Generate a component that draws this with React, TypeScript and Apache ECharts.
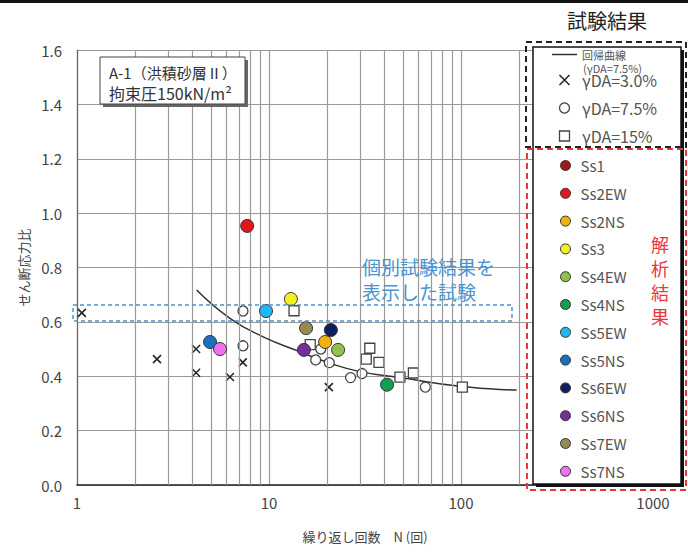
import React, { useEffect, useRef } from "react";
import * as echarts from "echarts";

const FONT = "'Noto Sans CJK JP', 'Liberation Sans', sans-serif";

// Regression curve
const curveN = [4.2, 6.26, 9.33, 14.5, 20.8, 29.8, 48, 101, 195];
const curveR = [0.717, 0.613, 0.545, 0.49, 0.448, 0.417, 0.395, 0.362, 0.349];

// Test results
const crossN = [1.06, 2.61, 4.17, 4.17, 6.26, 7.3, 20.5];
const crossR = [0.633, 0.463, 0.5, 0.413, 0.397, 0.451, 0.36];
const openN = [7.32, 7.32, 18.6, 17.5, 20.6, 26.6, 30.5, 65.2];
const openR = [0.64, 0.512, 0.5, 0.46, 0.45, 0.395, 0.41, 0.36];
const sqN = [13.5, 16.4, 33.5, 32.1, 37.4, 48.1, 56.5, 101.6];
const sqR = [0.641, 0.516, 0.503, 0.463, 0.451, 0.397, 0.412, 0.36];

// Analysis results
const ssNames = ["Ss1", "Ss2EW", "Ss2NS", "Ss3", "Ss4EW", "Ss4NS", "Ss5EW", "Ss5NS", "Ss6EW", "Ss6NS", "Ss7EW", "Ss7NS"];
const ssColors = ["#9c1a1a", "#e01818", "#f0b010", "#f2f020", "#90c050", "#10a050", "#20b8f0", "#1a70c0", "#101e60", "#7030a0", "#948a54", "#f070f0"];
const ssN: (number | null)[] = [null, 7.7, 19.6, 13.0, 22.9, 41.2, 9.65, 4.93, 21.0, 15.2, 15.6, 5.56];
const ssR: (number | null)[] = [null, 0.953, 0.526, 0.684, 0.497, 0.369, 0.64, 0.526, 0.57, 0.497, 0.577, 0.5];

const minorN = [2, 3, 4, 5, 6, 7, 8, 9, 20, 30, 40, 50, 60, 70, 80, 90, 200, 300, 400, 500, 600, 700, 800, 900];

const vertLabel = ["解", "析", "結", "果"];
const noteLines = ["個別試験結果を", "表示した試験"];

const CROSS = "path://M0,0L10,10M10,0L0,10";
const SQUARE = "path://M0,0L10,0L10,10L0,10Z";
const LINE_ICON = "path://M0,0L25,0L25,1.5L0,1.5Z";

export default function App() {
  const ref = useRef<HTMLDivElement>(null);
  useEffect(() => {
    const chart = echarts.init(ref.current!, null, { renderer: "svg" });
    const zip = (a: any[], b: any[]) => a.map((v, i) => [v, b[i]]);
    const ssSeries = ssNames.map((name, i) => ({
      name,
      type: "scatter",
      z: 5,
      symbol: "circle",
      symbolSize: 13,
      itemStyle: { color: ssColors[i], borderColor: "#333", borderWidth: 1, opacity: 1 },
      data: ssN[i] == null ? [] : [[ssN[i], ssR[i]]],
    }));
    const option: any = {
      animation: false,
      backgroundColor: "#fff",
      textStyle: { fontFamily: FONT },
      grid: { left: 77, right: 35, top: 50, bottom: 69 },
      xAxis: {
        type: "log",
        logBase: 10,
        min: 1,
        max: 1000,
        axisLine: { lineStyle: { color: "#222", width: 1.5 } },
        axisTick: { show: false },
        axisLabel: { fontSize: 15, color: "#444", margin: 10, formatter: (v: number) => String(Math.round(v)) },
        splitLine: { show: true, lineStyle: { color: "#9a9a9a", width: 1.2 } },
        name: "繰り返し回数　N (回)",
        nameLocation: "middle",
        nameGap: 45,
        nameTextStyle: { fontSize: 13, color: "#444" },
      },
      yAxis: {
        type: "value",
        min: 0,
        max: 1.6,
        interval: 0.2,
        axisLine: { show: true, lineStyle: { color: "#666", width: 1.2 } },
        axisTick: { show: false },
        axisLabel: { fontSize: 15, color: "#444", margin: 15, formatter: (v: number) => v.toFixed(1) },
        splitLine: { show: true, lineStyle: { color: "#9a9a9a", width: 1.2 } },
        name: "せん断応力比",
        nameLocation: "middle",
        nameGap: 47,
        nameTextStyle: { fontSize: 13, color: "#444" },
      },
      legend: [
        {
          z: 60,
          orient: "vertical",
          left: 547,
          top: 44,
          itemWidth: 25,
          itemHeight: 10,
          itemGap: 12,
          selectedMode: false,
          textStyle: {
            fontSize: 16,
            color: "#555",
            fontFamily: FONT,
            rich: { s: { fontSize: 11, color: "#555", fontFamily: FONT } },
          },
          formatter: (n: string) => (n === "回帰曲線" ? "{s|回帰曲線}" : n),
          data: [
            { name: "回帰曲線", icon: LINE_ICON, itemStyle: { color: "#333", borderWidth: 0 } },
            { name: "γDA=3.0%", icon: CROSS, itemStyle: { color: "transparent", borderColor: "#222", borderWidth: 1.5 } },
            { name: "γDA=7.5%", icon: "circle", itemStyle: { color: "#fff", borderColor: "#444", borderWidth: 1.3 } },
            { name: "γDA=15%", icon: SQUARE, itemStyle: { color: "#fff", borderColor: "#444", borderWidth: 1.3 } },
          ],
        },
        {
          z: 60,
          orient: "vertical",
          left: 555,
          top: 153,
          itemWidth: 20,
          itemHeight: 10,
          itemGap: 12.8,
          selectedMode: false,
          textStyle: { fontSize: 15, color: "#555", fontFamily: FONT },
          itemStyle: { borderColor: "#333", borderWidth: 1 },
          data: ssNames.map((n) => ({ name: n, icon: "circle" })),
        },
      ],
      graphic: [
        { type: "rect", z: 50, shape: { x: 0, y: 0, width: 688, height: 3 }, style: { fill: "#111" } },
        // condition box
        { type: "rect", z: 50, shape: { x: 103, y: 60, width: 145, height: 47 }, style: { fill: "#666" } },
        { type: "rect", z: 51, shape: { x: 100, y: 57, width: 145, height: 47 }, style: { fill: "#fff", stroke: "#444", lineWidth: 1 } },
        { type: "text", z: 52, x: 109, y: 72, style: { text: "A-1（洪積砂層Ⅱ）", fontSize: 15, fill: "#333", fontFamily: FONT, verticalAlign: "middle" } },
        { type: "text", z: 52, x: 109, y: 93, style: { text: "拘束圧150kN/m²", fontSize: 16, fill: "#333", fontFamily: FONT, verticalAlign: "middle" } },
        // blue highlight
        { type: "rect", z: 50, shape: { x: 73, y: 305, width: 439, height: 16 }, style: { fill: "none", stroke: "#4a94d0", lineWidth: 1.5, lineDash: [4, 3] } },
        ...noteLines.map((t, i) => ({
          type: "text",
          z: 52,
          x: 362,
          y: 266 + i * 25.5,
          style: { text: t, fontSize: 19, fill: "#4a94d0", fontFamily: FONT, verticalAlign: "middle" },
        })),
        // legend area
        { type: "text", z: 52, x: 607, y: 20, style: { text: "試験結果", fontSize: 20, fill: "#222", fontFamily: FONT, align: "center", verticalAlign: "middle" } },
        { type: "rect", z: 50, shape: { x: 536, y: 50, width: 148, height: 437 }, style: { fill: "#111" } },
        { type: "rect", z: 51, shape: { x: 533, y: 47, width: 148, height: 437 }, style: { fill: "#fff", stroke: "#111", lineWidth: 1.5 } },
        { type: "rect", z: 55, shape: { x: 526, y: 42, width: 160, height: 105 }, style: { fill: "none", stroke: "#222", lineWidth: 2, lineDash: [6, 4] } },
        { type: "rect", z: 55, shape: { x: 527, y: 149, width: 159, height: 341 }, style: { fill: "none", stroke: "#e8383d", lineWidth: 2, lineDash: [6, 4] } },
        { type: "text", z: 61, x: 583, y: 68, style: { text: "(γDA=7.5%)", fontSize: 11, fill: "#555", fontFamily: FONT, verticalAlign: "middle" } },
        ...vertLabel.map((t, i) => ({
          type: "text",
          z: 61,
          x: 660,
          y: 244 + i * 24,
          style: { text: t, fontSize: 18, fill: "#e8383d", fontFamily: FONT, align: "center", verticalAlign: "middle" },
        })),
      ],
      series: [
        {
          name: "回帰曲線",
          type: "line",
          z: 3,
          smooth: true,
          symbol: "none",
          lineStyle: { color: "#333", width: 1.5 },
          itemStyle: { color: "#333" },
          data: zip(curveN, curveR),
          markLine: {
            silent: true,
            symbol: ["none", "none"],
            label: { show: false },
            lineStyle: { color: "#9a9a9a", width: 1.2, type: "solid" },
            emphasis: { disabled: true },
            data: minorN.map((v) => ({ xAxis: v })),
          },
        },
        {
          name: "γDA=3.0%",
          type: "scatter",
          z: 4,
          symbol: CROSS,
          symbolSize: 8,
          itemStyle: { color: "transparent", borderColor: "#222", borderWidth: 1.5, opacity: 1 },
          data: zip(crossN, crossR),
        },
        {
          name: "γDA=7.5%",
          type: "scatter",
          z: 4,
          symbol: "circle",
          symbolSize: 10,
          itemStyle: { color: "#fff", borderColor: "#444", borderWidth: 1.3, opacity: 1 },
          data: zip(openN, openR),
        },
        {
          name: "γDA=15%",
          type: "scatter",
          z: 4,
          symbol: "rect",
          symbolSize: 10,
          itemStyle: { color: "#fff", borderColor: "#444", borderWidth: 1.3, opacity: 1 },
          data: zip(sqN, sqR),
        },
        ...ssSeries,
      ],
    };
    chart.setOption(option);
    return () => chart.dispose();
  }, []);
  return <div ref={ref} style={{ width: 688, height: 554, position: "absolute", left: 0, top: 0 }} />;
}
